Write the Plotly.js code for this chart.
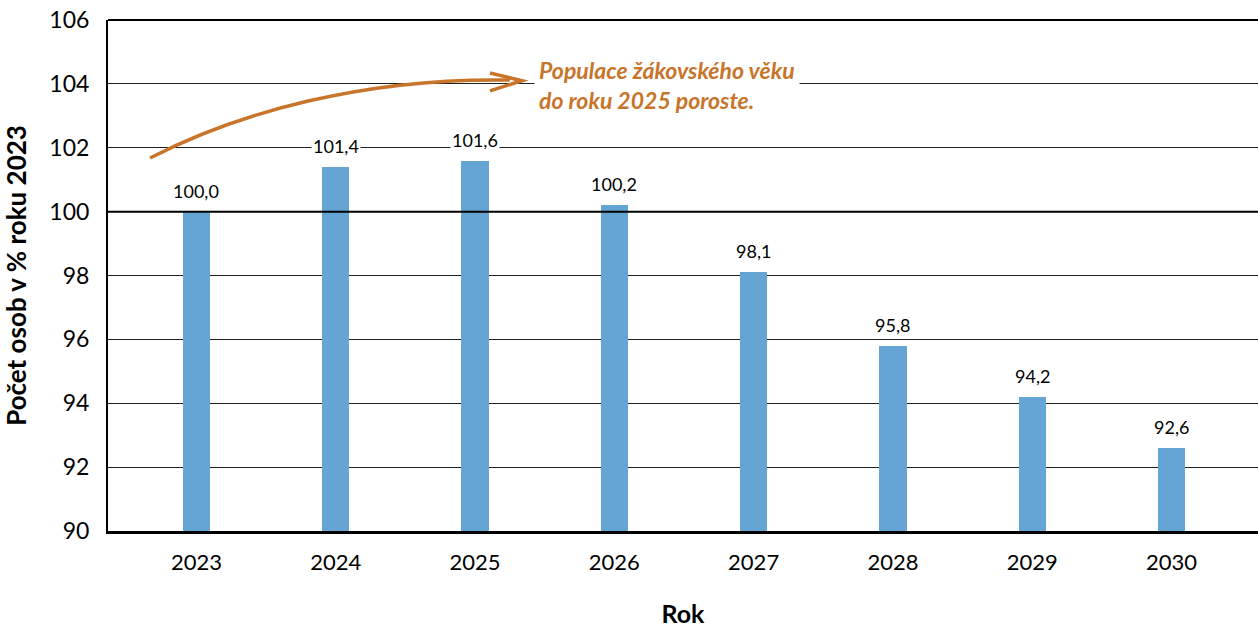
<!DOCTYPE html>
<html>
<head>
<meta charset="utf-8">
<script src="https://cdn.plot.ly/plotly-3.0.1.min.js"></script>
<style>html,body{margin:0;padding:0;background:#fff;}#chart{width:1258px;height:628px;}</style>
</head>
<body>
<div id="chart"></div>
<script>
const years = ['2023','2024','2025','2026','2027','2028','2029','2030'];
const values = [100.0, 101.4, 101.6, 100.2, 98.1, 95.8, 94.2, 92.6];
const valueLabels = ['100,0','101,4','101,6','100,2','98,1','95,8','94,2','92,6'];
const yTicks = [90, 92, 94, 96, 98, 100, 102, 104, 106];

const xIdx = years.map((_, i) => i);
const orange = '#C8742A';
const font = 'Lato, "Open Sans", sans-serif';

const trace = {
  type: 'bar',
  x: xIdx,
  y: values,
  width: 0.195,
  marker: {color: '#65A5D3'},
  hoverinfo: 'skip'
};

const labelAnns = xIdx.map((x, i) => ({
  x: x, y: values[i], xref: 'x', yref: 'y',
  text: valueLabels[i], showarrow: false,
  yanchor: 'bottom', yshift: 8,
  bgcolor: '#ffffff', borderpad: 1,
  font: {family: font, size: 18, color: '#000'}
}));

const layout = {
  width: 1258, height: 628,
  margin: {l: 108, r: 0, t: 20, b: 97},
  paper_bgcolor: '#fff', plot_bgcolor: '#fff',
  showlegend: false,
  bargap: 0,
  xaxis: {
    range: [-0.635, 7.621],
    tickvals: xIdx, ticktext: years,
    showgrid: false, zeroline: false,
    showline: true, linecolor: '#000', linewidth: 3,
    ticks: '', ticklabelstandoff: 10,
    tickfont: {family: font, size: 22, color: '#000'},
    title: {text: '<b>Rok</b>', font: {family: font, size: 25, color: '#000'}, standoff: 40}
  },
  yaxis: {
    range: [90, 106],
    tickvals: yTicks, ticktext: yTicks.map(String),
    showgrid: true, gridcolor: '#222', gridwidth: 1,
    zeroline: false,
    showline: true, linecolor: '#000', linewidth: 2,
    ticks: '', ticklen: 0, ticklabelstandoff: 12,
    tickfont: {family: font, size: 23, color: '#000'},
    title: {text: '<b>Počet osob v % roku 2023</b>', font: {family: font, size: 26, color: '#000'}, standoff: 22}
  },
  shapes: [
    {type: 'line', xref: 'paper', yref: 'y', x0: 0, x1: 1, y0: 100, y1: 100, line: {color: '#000', width: 2}, layer: 'above'},
    {type: 'line', xref: 'paper', yref: 'paper', x0: 0, x1: 1, y0: 1, y1: 1, line: {color: '#000', width: 2}},
    {type: 'path', xref: 'x', yref: 'y',
     path: 'M -0.333,101.68 C 0.30,103.10 1.20,104.20 2.25,104.12',
     line: {color: orange, width: 3.5}, layer: 'above'},
    {type: 'path', xref: 'x', yref: 'y',
     path: 'M 2.107,104.34 L 2.337,104.10 L 2.107,103.78',
     line: {color: orange, width: 3.5}, layer: 'above'}
  ],
  annotations: labelAnns.concat([{
    x: 2.42, y: 103.98, xref: 'x', yref: 'y',
    xanchor: 'left', yanchor: 'middle', align: 'left',
    text: '<b><i>Populace žákovského věku<br>do roku 2025 poroste.</i></b>',
    showarrow: false, bgcolor: '#ffffff', borderpad: 4,
    font: {family: font, size: 23, color: orange}
  }])
};

Plotly.newPlot('chart', [trace], layout, {displayModeBar: false, staticPlot: true});
</script>
</body>
</html>
